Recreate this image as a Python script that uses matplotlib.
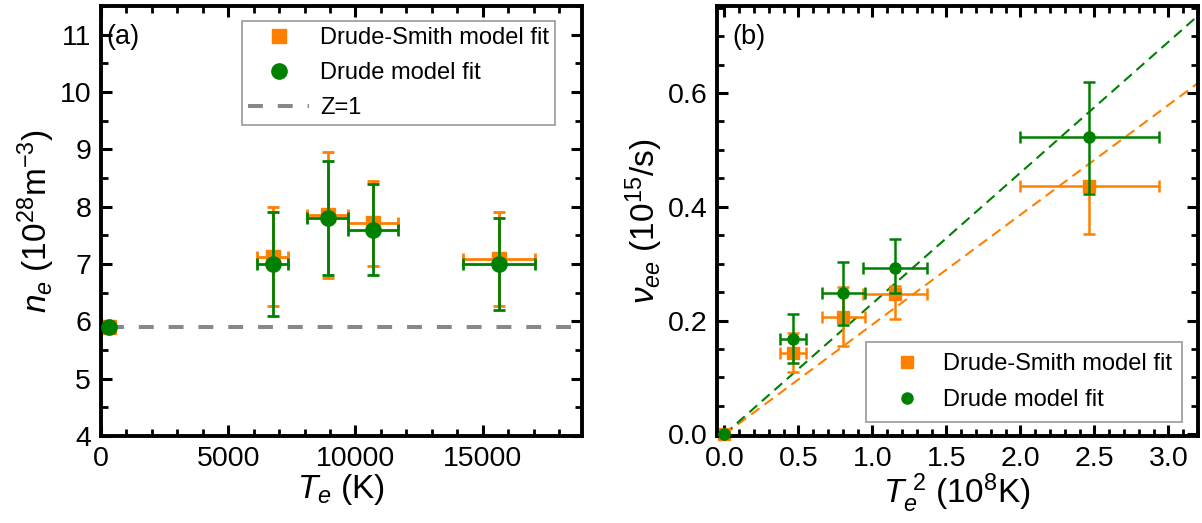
import matplotlib
matplotlib.use("Agg")
import matplotlib.pyplot as plt
from matplotlib.ticker import MultipleLocator, FormatStrFormatter
from matplotlib.lines import Line2D
import numpy as np

plt.rcParams['font.family'] = ['Liberation Sans', 'DejaVu Sans']
plt.rcParams['mathtext.fontset'] = 'custom'
plt.rcParams['mathtext.rm'] = 'Liberation Sans'
plt.rcParams['mathtext.it'] = 'Liberation Sans:italic'
plt.rcParams['mathtext.bf'] = 'Liberation Sans:bold'

ORANGE = '#FF8000'
GREEN = '#008000'
GREY = '#888888'

# ---- panel (a) data ----
Te_a = [330, 6740, 8910, 10690, 15630]
Te_err_a = [0, 600, 800, 975, 1420]
ne_ds = [5.9, 7.13, 7.86, 7.71, 7.08]
ne_ds_up = [0, 0.87, 1.09, 0.74, 0.82]
ne_ds_lo = [0, 0.86, 1.11, 0.74, 0.82]
ne_d = [5.9, 7.0, 7.8, 7.6, 7.0]
ne_d_up = [0, 0.9, 1.0, 0.8, 0.8]
ne_d_lo = [0, 0.9, 1.0, 0.8, 0.8]
z1_level = 5.9

# ---- panel (b) data ----
T2_b = [0.0, 0.464, 0.804, 1.152, 2.466]
T2_err_b = [0, 0.09, 0.147, 0.215, 0.467]
nu_ds = [0.0, 0.143, 0.207, 0.247, 0.437]
nu_ds_up = [0, 0.035, 0.052, 0.013, 0.0]
nu_ds_lo = [0, 0.034, 0.052, 0.044, 0.084]
nu_d = [0.0, 0.168, 0.248, 0.292, 0.522]
nu_d_up = [0, 0.043, 0.055, 0.051, 0.098]
nu_d_lo = [0, 0.042, 0.055, 0.043, 0.099]
slope_ds = 0.193
slope_d = 0.230

fig = plt.figure(figsize=(12.02, 5.23), dpi=100)
axa = fig.add_axes([0.0840, 0.1663, 0.4002, 0.8222])
axb = fig.add_axes([0.5965, 0.1663, 0.4002, 0.8222])


def style(ax):
    for s in ax.spines.values():
        s.set_linewidth(2.8)
    ax.tick_params(which='both', direction='in', top=True, right=True,
                   labelsize=20.5, pad=7)
    ax.tick_params(which='major', length=8, width=2.2)
    ax.tick_params(which='minor', length=5, width=2.0)


# Panel (a)
axa.hlines(z1_level, Te_a[0], 19500, color=GREY, ls=(0, (3.7, 3.7)), lw=2.9,
           zorder=1)
axa.errorbar(Te_a, ne_ds, yerr=[ne_ds_lo, ne_ds_up], xerr=Te_err_a, fmt='s',
             color=ORANGE, ms=9.5, elinewidth=2, capsize=4, capthick=2,
             zorder=2)
axa.errorbar(Te_a, ne_d, yerr=[ne_d_lo, ne_d_up], xerr=Te_err_a, fmt='o',
             color=GREEN, ms=11, elinewidth=2, capsize=4, capthick=2,
             zorder=3)
axa.set_xlim(0, 18900)
axa.set_ylim(4, 11.5)
axa.xaxis.set_major_locator(MultipleLocator(5000))
axa.xaxis.set_minor_locator(MultipleLocator(1000))
axa.yaxis.set_major_locator(MultipleLocator(1))
axa.yaxis.set_minor_locator(MultipleLocator(0.5))
style(axa)
axa.set_xlabel(r'$T_e$ (K)', fontsize=24, labelpad=0)
axa.set_ylabel(r'$n_e$ (10$^{28}$m$^{-3}$)', fontsize=24, labelpad=2)
axa.text(0.012, 0.928, '(a)', transform=axa.transAxes, fontsize=19.5,
         va='center', ha='left')
hs = [Line2D([], [], marker='s', color=ORANGE, ls='', ms=9.5),
      Line2D([], [], marker='o', color=GREEN, ls='', ms=11),
      Line2D([], [], color=GREY, ls=(0, (3.7, 3.7)), lw=2.9)]
leg = axa.legend(hs, ['Drude-Smith model fit', 'Drude model fit', 'Z=1'],
                 loc='upper left', bbox_to_anchor=(0.293, 0.965),
                 borderaxespad=0, fontsize=17,
                 fancybox=False, edgecolor='#999999', framealpha=1,
                 borderpad=0.25, labelspacing=0.55, handlelength=2.6,
                 handletextpad=0.45)
leg.get_frame().set_linewidth(1.2)

# Panel (b)
xx = np.array([0, 3.2])
axb.plot(xx, slope_ds * xx, color=ORANGE, ls=(0, (5, 3)), lw=1.5, zorder=1)
axb.plot(xx, slope_d * xx, color=GREEN, ls=(0, (5, 3)), lw=1.5, zorder=1)
axb.errorbar(T2_b, nu_ds, yerr=[nu_ds_lo, nu_ds_up], xerr=T2_err_b, fmt='s',
             color=ORANGE, ms=8, elinewidth=1.8, capsize=4.5, capthick=1.8,
             zorder=2, clip_on=False)
axb.errorbar(T2_b, nu_d, yerr=[nu_d_lo, nu_d_up], xerr=T2_err_b, fmt='o',
             color=GREEN, ms=8, elinewidth=1.8, capsize=4.5, capthick=1.8,
             zorder=3, clip_on=False)
axb.set_xlim(-0.05, 3.2)
axb.set_ylim(-0.003, 0.753)
axb.xaxis.set_major_locator(MultipleLocator(0.5))
axb.xaxis.set_minor_locator(MultipleLocator(0.1))
axb.yaxis.set_major_locator(MultipleLocator(0.2))
axb.yaxis.set_minor_locator(MultipleLocator(0.05))
axb.xaxis.set_major_formatter(FormatStrFormatter('%.1f'))
axb.yaxis.set_major_formatter(FormatStrFormatter('%.1f'))
style(axb)
axb.set_xlabel(r'$T_e^{\ 2}$ (10$^8$K)', fontsize=24, labelpad=0)
axb.set_ylabel(r'$\nu_{ee}$ (10$^{15}$/s)', fontsize=24, labelpad=2)
axb.text(0.033, 0.928, '(b)', transform=axb.transAxes, fontsize=19.5,
         va='center', ha='left')
hs2 = [Line2D([], [], marker='s', color=ORANGE, ls='', ms=8),
       Line2D([], [], marker='o', color=GREEN, ls='', ms=8)]
leg2 = axb.legend(hs2, ['Drude-Smith model fit', 'Drude model fit'],
                  loc='lower left', bbox_to_anchor=(0.31, 0.033),
                  borderaxespad=0, fontsize=17,
                  fancybox=False, edgecolor='#999999', framealpha=1,
                  borderpad=0.45, labelspacing=0.6, handlelength=2.55,
                  handletextpad=0.25)
leg2.get_frame().set_linewidth(1.2)

fig.savefig('out.png', dpi=100)
